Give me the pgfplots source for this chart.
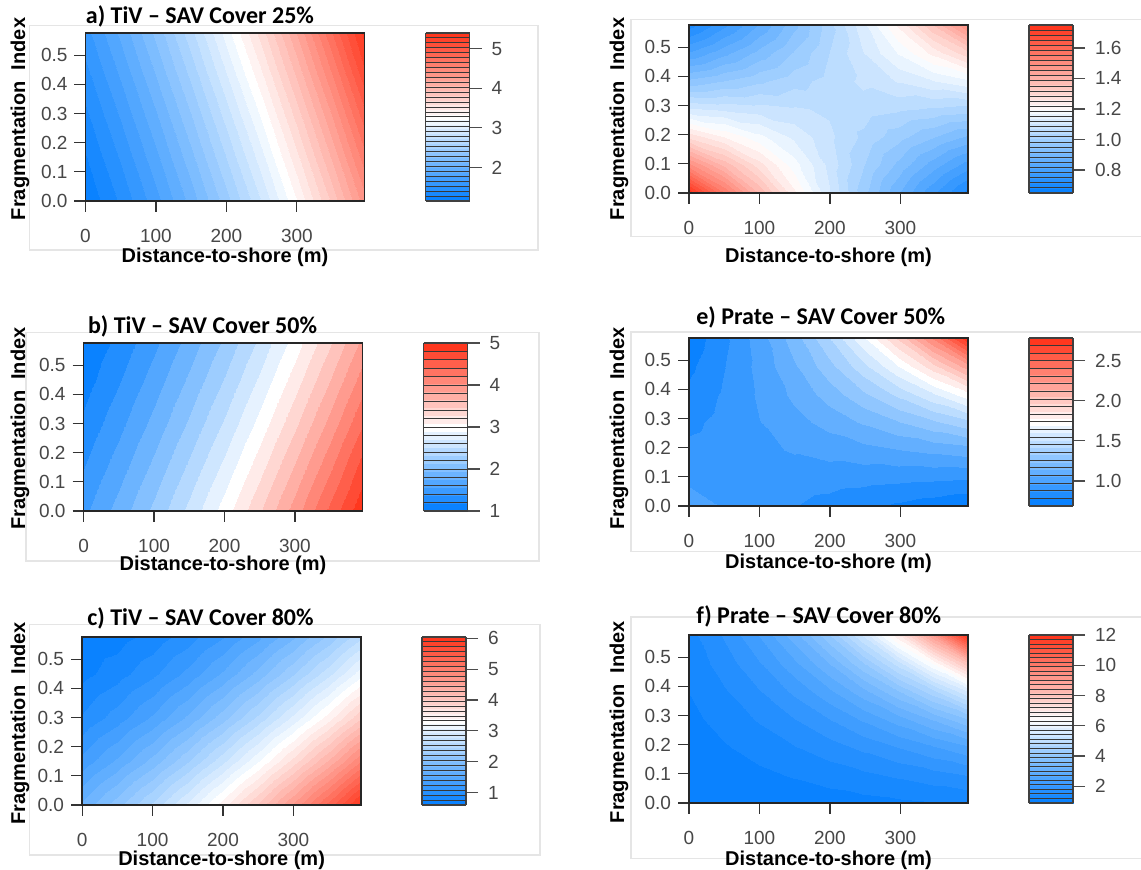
\documentclass[border=0pt]{standalone}
\usepackage{pgfplots}
\pgfplotsset{compat=1.18}
\usepackage{fontspec}
\setmainfont{Liberation Sans}
\newfontfamily\calib{Carlito}
\pgfkeys{/pgf/number format/assume math mode=true}
\pgfplotsset{
  colormap={bwr}{rgb255=(10,130,255) rgb255=(255,255,255) rgb255=(255,55,30)},
  colormap={cmA}{samples of colormap=(35 of bwr)},
  colormap={cmB}{samples of colormap=(21 of bwr)},
  colormap={cmC}{samples of colormap=(35 of bwr)},
  colormap={cmD}{samples of colormap=(34 of bwr)},
  colormap={cmE}{samples of colormap=(23 of bwr)},
  colormap={cmF}{samples of colormap=(38 of bwr)},
  panel/.style={
    scale only axis, width=139.5pt, height=84pt, anchor=south west,
    xmin=0, xmax=396, ymin=0, ymax=0.576,
    axis on top,
    xtick={0,100,200,300}, ytick={0,0.1,0.2,0.3,0.4,0.5},
    xtick pos=bottom, ytick pos=left,
    tick align=outside, major tick length=5.5pt,
    every tick/.style={black!80, line width=0.6pt},
    axis line style={black!85, line width=0.75pt},
    ticklabel style={font=\fontsize{9.5}{11}\selectfont, text=black!72},
    xticklabel style={yshift=-5pt},
    yticklabel={\pgfmathprintnumber[fixed,fixed zerofill,precision=1]{\tick}},
    colormap access=piecewise constant,
    colorbar,
    colorbar style={
      at={(parent axis.north east)}, anchor=north west, xshift=22pt,
      scale only axis, width=22pt, height=84pt,
      axis on top,
      ytick pos=right, yticklabel pos=right,
      tick align=outside, major tick length=6pt,
      every tick/.style={black!70, line width=0.6pt},
      axis line style={black!75, line width=0.7pt},
      yticklabel style={font=\fontsize{9.5}{11}\selectfont, text=black!72, xshift=1.5pt},
      extra y tick labels={},
      extra y tick style={grid=major, major grid style={black!78, line width=0.5pt}, tick style={draw=none}},
    },
  },
  plotsurf/.style={surf, shader=interp, mesh/cols=9, point meta=explicit},
}
\newcommand{\zint}{\pgfmathprintnumber{\tick}}
\newcommand{\zfix}{\pgfmathprintnumber[fixed,fixed zerofill,precision=1]{\tick}}
\newcommand{\ttl}[1]{{\calib\bfseries\fontsize{12}{14}\selectfont #1}}
\newcommand{\lbl}[1]{{\bfseries\fontsize{10}{12}\selectfont #1}}

\begin{document}
\begin{tikzpicture}
\path[use as bounding box] (0pt,0pt) rectangle (570.5pt,-435pt);
\fill[white] (0pt,0pt) rectangle (570.5pt,-435pt);
\begin{scope}[black!10, line width=0.6pt]
\draw (14.8pt,-12.7pt) rectangle (269pt,-125pt);
\draw (12.95pt,-166.4pt) rectangle (269.5pt,-280.5pt);
\draw (14.8pt,-312.3pt) rectangle (270pt,-427.5pt);
\draw (315.5pt,-9.8pt) rectangle (572pt,-118.2pt);
\draw (315.5pt,-166pt) rectangle (572pt,-275.9pt);
\draw (315.5pt,-308.5pt) rectangle (572pt,-429.4pt);
\end{scope}

% ---------- a
\begin{axis}[panel, at={(42.75pt,-100.5pt)}, colormap name=cmA,
  point meta min=1.15, point meta max=5.40,
  colorbar style={ytick={2,3,4,5}, yticklabel=\zint, extra y ticks={1.275,1.4,...,5.275}}]
\addplot[plotsurf] coordinates {
(0,0) [1.170] (50,0) [1.418] (100,0) [1.711] (150,0) [2.049] (200,0) [2.433] (250,0) [2.862] (300,0) [3.336] (350,0) [3.856] (400,0) [4.421]
(0,0.15) [1.268] (50,0.15) [1.535] (100,0.15) [1.847] (150,0.15) [2.205] (200,0.15) [2.608] (250,0.15) [3.056] (300,0.15) [3.549] (350,0.15) [4.088] (400,0.15) [4.672]
(0,0.3) [1.375] (50,0.3) [1.661] (100,0.3) [1.992] (150,0.3) [2.368] (200,0.3) [2.790] (250,0.3) [3.257] (300,0.3) [3.770] (350,0.3) [4.328] (400,0.3) [4.931]
(0,0.45) [1.490] (50,0.45) [1.794] (100,0.45) [2.145] (150,0.45) [2.540] (200,0.45) [2.981] (250,0.45) [3.467] (300,0.45) [3.999] (350,0.45) [4.576] (400,0.45) [5.198]
(0,0.6) [1.612] (50,0.6) [1.936] (100,0.6) [2.305] (150,0.6) [2.720] (200,0.6) [3.180] (250,0.6) [3.685] (300,0.6) [4.236] (350,0.6) [4.832] (400,0.6) [5.473]
};
\end{axis}

% ---------- b
\begin{axis}[panel, at={(41.8pt,-255.5pt)}, colormap name=cmB,
  point meta min=1, point meta max=5,
  colorbar style={ytick={1,2,3,4,5}, yticklabel=\zint, extra y ticks={1.2,1.4,...,4.8}}]
\addplot[plotsurf] coordinates {
(0,0) [1.526] (50,0) [1.841] (100,0) [2.192] (150,0) [2.578] (200,0) [3.000] (250,0) [3.458] (300,0) [3.951] (350,0) [4.481] (400,0) [5.046]
(0,0.15) [1.376] (50,0.15) [1.671] (100,0.15) [2.003] (150,0.15) [2.371] (200,0.15) [2.774] (250,0.15) [3.213] (300,0.15) [3.688] (350,0.15) [4.198] (400,0.15) [4.745]
(0,0.3) [1.235] (50,0.3) [1.512] (100,0.3) [1.825] (150,0.3) [2.173] (200,0.3) [2.558] (250,0.3) [2.978] (300,0.3) [3.434] (350,0.3) [3.926] (400,0.3) [4.454]
(0,0.45) [1.103] (50,0.45) [1.362] (100,0.45) [1.656] (150,0.45) [1.986] (200,0.45) [2.351] (250,0.45) [2.753] (300,0.45) [3.190] (350,0.45) [3.663] (400,0.45) [4.172]
(0,0.6) [0.982] (50,0.6) [1.222] (100,0.6) [1.497] (150,0.6) [1.808] (200,0.6) [2.155] (250,0.6) [2.538] (300,0.6) [2.956] (350,0.6) [3.410] (400,0.6) [3.900]
};
\end{axis}

% ---------- c
\begin{axis}[panel, at={(41.05pt,-402.5pt)}, colormap name=cmC,
  point meta min=0.6, point meta max=6.04,
  colorbar style={ytick={1,2,3,4,5,6}, yticklabel=\zint, extra y ticks={0.76,0.92,...,5.88}}]
\addplot[plotsurf] coordinates {
(0,0) [1.724] (50,0) [2.090] (100,0) [2.506] (150,0) [2.972] (200,0) [3.489] (250,0) [4.056] (300,0) [4.673] (350,0) [5.341] (400,0) [6.059]
(0,0.15) [1.270] (50,0.15) [1.560] (100,0.15) [1.901] (150,0.15) [2.291] (200,0.15) [2.732] (250,0.15) [3.224] (300,0.15) [3.766] (350,0.15) [4.358] (400,0.15) [5.001]
(0,0.3) [0.930] (50,0.3) [1.144] (100,0.3) [1.409] (150,0.3) [1.724] (200,0.3) [2.090] (250,0.3) [2.506] (300,0.3) [2.972] (350,0.3) [3.489] (400,0.3) [4.056]
(0,0.45) [0.703] (50,0.45) [0.842] (100,0.45) [1.031] (150,0.45) [1.270] (200,0.45) [1.560] (250,0.45) [1.901] (300,0.45) [2.291] (350,0.45) [2.732] (400,0.45) [3.224]
(0,0.6) [0.590] (50,0.6) [0.653] (100,0.6) [0.766] (150,0.6) [0.930] (200,0.6) [1.144] (250,0.6) [1.409] (300,0.6) [1.724] (350,0.6) [2.090] (400,0.6) [2.506]
};
\end{axis}

% ---------- d
\begin{axis}[panel, at={(344.5pt,-96.5pt)}, colormap name=cmD,
  point meta min=0.65, point meta max=1.75,
  colorbar style={ytick={0.8,1.0,1.2,1.4,1.6}, yticklabel=\zfix, extra y ticks={0.68333,0.71667,...,1.71667}}]
\addplot[plotsurf] coordinates {
(0,0) [1.751] (49.5,0) [1.560] (99,0) [1.392] (148.5,0) [1.241] (198,0) [1.107] (247.5,0) [0.987] (297,0) [0.880] (346.5,0) [0.785] (396,0) [0.700]
(0,0.096) [1.503] (49.5,0.096) [1.387] (99,0.096) [1.281] (148.5,0.096) [1.183] (198,0.096) [1.093] (247.5,0.096) [1.009] (297,0.096) [0.932] (346.5,0.096) [0.860] (396,0.096) [0.795]
(0,0.192) [1.290] (49.5,0.192) [1.233] (99,0.192) [1.179] (148.5,0.192) [1.128] (198,0.192) [1.079] (247.5,0.192) [1.031] (297,0.192) [0.986] (346.5,0.192) [0.943] (396,0.192) [0.902]
(0,0.288) [1.107] (49.5,0.288) [1.096] (99,0.288) [1.086] (148.5,0.288) [1.075] (198,0.288) [1.065] (247.5,0.288) [1.055] (297,0.288) [1.044] (346.5,0.288) [1.034] (396,0.288) [1.024]
(0,0.384) [0.950] (49.5,0.384) [0.974] (99,0.384) [0.999] (148.5,0.384) [1.025] (198,0.384) [1.051] (247.5,0.384) [1.078] (297,0.384) [1.106] (346.5,0.384) [1.134] (396,0.384) [1.163]
(0,0.48) [0.815] (49.5,0.48) [0.866] (99,0.48) [0.920] (148.5,0.48) [0.977] (198,0.48) [1.038] (247.5,0.48) [1.102] (297,0.48) [1.171] (346.5,0.48) [1.243] (396,0.48) [1.320]
(0,0.576) [0.700] (49.5,0.576) [0.770] (99,0.576) [0.846] (148.5,0.576) [0.931] (198,0.576) [1.024] (247.5,0.576) [1.126] (297,0.576) [1.239] (346.5,0.576) [1.363] (396,0.576) [1.499]
};
\end{axis}

% ---------- e
\begin{axis}[panel, at={(344.5pt,-253pt)}, colormap name=cmE,
  point meta min=0.69, point meta max=2.78,
  colorbar style={ytick={1.0,1.5,2.0,2.5}, yticklabel=\zfix, extra y ticks={0.785,0.88,...,2.685}}]
\addplot[plotsurf] coordinates {
(0,0) [1.000] (49.5,0) [0.956] (99,0) [0.915] (148.5,0) [0.875] (198,0) [0.837] (247.5,0) [0.800] (297,0) [0.765] (346.5,0) [0.732] (396,0) [0.700]
(0,0.096) [0.946] (49.5,0.096) [0.938] (99,0.096) [0.930] (148.5,0.096) [0.921] (198,0.096) [0.913] (247.5,0.096) [0.905] (297,0.096) [0.897] (346.5,0.096) [0.889] (396,0.096) [0.881]
(0,0.192) [0.896] (49.5,0.192) [0.920] (99,0.192) [0.945] (148.5,0.192) [0.970] (198,0.192) [0.996] (247.5,0.192) [1.023] (297,0.192) [1.051] (346.5,0.192) [1.079] (396,0.192) [1.108]
(0,0.288) [0.848] (49.5,0.288) [0.902] (99,0.288) [0.960] (148.5,0.288) [1.022] (198,0.288) [1.087] (247.5,0.288) [1.157] (297,0.288) [1.231] (346.5,0.288) [1.310] (396,0.288) [1.394]
(0,0.384) [0.803] (49.5,0.384) [0.885] (99,0.384) [0.976] (148.5,0.384) [1.076] (198,0.384) [1.187] (247.5,0.384) [1.309] (297,0.384) [1.443] (346.5,0.384) [1.591] (396,0.384) [1.755]
(0,0.48) [0.760] (49.5,0.48) [0.868] (99,0.48) [0.992] (148.5,0.48) [1.133] (198,0.48) [1.295] (247.5,0.48) [1.480] (297,0.48) [1.691] (346.5,0.48) [1.933] (396,0.48) [2.208]
(0,0.576) [0.719] (49.5,0.576) [0.851] (99,0.576) [1.008] (148.5,0.576) [1.194] (198,0.576) [1.413] (247.5,0.576) [1.674] (297,0.576) [1.982] (346.5,0.576) [2.347] (396,0.576) [2.779]
};
\end{axis}

% ---------- f
\begin{axis}[panel, at={(344.5pt,-401.5pt)}, colormap name=cmF,
  point meta min=0.9, point meta max=12.0,
  colorbar style={ytick={2,4,6,8,10,12}, yticklabel=\zint, extra y ticks={1.2,1.5,...,11.7}}]
\addplot[plotsurf] coordinates {
(0,0) [0.900] (49.5,0) [0.935] (99,0) [0.972] (148.5,0) [1.009] (198,0) [1.049] (247.5,0) [1.089] (297,0) [1.132] (346.5,0) [1.176] (396,0) [1.221]
(0,0.096) [0.967] (49.5,0.096) [1.044] (99,0.096) [1.128] (148.5,0.096) [1.218] (198,0.096) [1.315] (247.5,0.096) [1.420] (297,0.096) [1.533] (346.5,0.096) [1.656] (396,0.096) [1.788]
(0,0.192) [1.039] (49.5,0.192) [1.166] (99,0.192) [1.309] (148.5,0.192) [1.469] (198,0.192) [1.649] (247.5,0.192) [1.850] (297,0.192) [2.077] (346.5,0.192) [2.331] (396,0.192) [2.616]
(0,0.288) [1.116] (49.5,0.288) [1.302] (99,0.288) [1.519] (148.5,0.288) [1.772] (198,0.288) [2.067] (247.5,0.288) [2.412] (297,0.288) [2.813] (346.5,0.288) [3.282] (396,0.288) [3.828]
(0,0.384) [1.199] (49.5,0.384) [1.454] (99,0.384) [1.763] (148.5,0.384) [2.138] (198,0.384) [2.592] (247.5,0.384) [3.143] (297,0.384) [3.811] (346.5,0.384) [4.622] (396,0.384) [5.604]
(0,0.48) [1.288] (49.5,0.48) [1.624] (99,0.48) [2.046] (148.5,0.48) [2.579] (198,0.48) [3.250] (247.5,0.48) [4.096] (297,0.48) [5.163] (346.5,0.48) [6.506] (396,0.48) [8.201]
(0,0.576) [1.384] (49.5,0.576) [1.813] (99,0.576) [2.375] (148.5,0.576) [3.111] (198,0.576) [4.076] (247.5,0.576) [5.339] (297,0.576) [6.993] (346.5,0.576) [9.161] (396,0.576) [12.000]
};
\end{axis}

% ---------- titles and labels
\node[anchor=base west, inner sep=0pt] at (42.75pt,-11.8pt) {\ttl{a) TiV – SAV Cover 25\%}};
\node[anchor=base west, inner sep=0pt] at (43.8pt,-166.9pt) {\ttl{b) TiV – SAV Cover 50\%}};
\node[anchor=base west, inner sep=0pt] at (43.5pt,-313pt) {\ttl{c) TiV – SAV Cover 80\%}};
\node[anchor=base west, inner sep=0pt] at (348pt,-162.5pt) {\ttl{e) Prate – SAV Cover 50\%}};
\node[anchor=base west, inner sep=0pt] at (348pt,-312pt) {\ttl{f) Prate – SAV Cover 80\%}};

\node at (112.5pt,-128.5pt) {\lbl{Distance-to-shore (m)}};
\node at (111.5pt,-282.5pt) {\lbl{Distance-to-shore (m)}};
\node at (110.8pt,-430pt) {\lbl{Distance-to-shore (m)}};
\node at (414.25pt,-128.5pt) {\lbl{Distance-to-shore (m)}};
\node at (414.25pt,-281.75pt) {\lbl{Distance-to-shore (m)}};
\node at (414.25pt,-430pt) {\lbl{Distance-to-shore (m)}};

\node[rotate=90] at (10pt,-59.5pt) {\lbl{Fragmentation\ \ Index}};
\node[rotate=90] at (10pt,-214.25pt) {\lbl{Fragmentation\ \ Index}};
\node[rotate=90] at (10pt,-361.7pt) {\lbl{Fragmentation\ \ Index}};
\node[rotate=90] at (309.5pt,-59.5pt) {\lbl{Fragmentation\ \ Index}};
\node[rotate=90] at (309.5pt,-214.25pt) {\lbl{Fragmentation\ \ Index}};
\node[rotate=90] at (309.5pt,-361pt) {\lbl{Fragmentation\ \ Index}};
\end{tikzpicture}
\end{document}
